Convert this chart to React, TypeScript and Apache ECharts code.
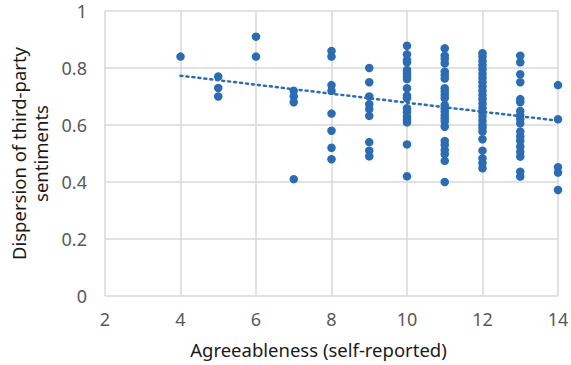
import React, { useEffect, useRef } from "react";
import * as echarts from "echarts";

const xValues4to9: [number, number][] = [
  [4, 0.84],
  [5, 0.77], [5, 0.73], [5, 0.70],
  [6, 0.91], [6, 0.84],
  [7, 0.72], [7, 0.70], [7, 0.68], [7, 0.41],
  [8, 0.86], [8, 0.84], [8, 0.74], [8, 0.72], [8, 0.64], [8, 0.58], [8, 0.52], [8, 0.48],
  [9, 0.80], [9, 0.75], [9, 0.70], [9, 0.673], [9, 0.656], [9, 0.632], [9, 0.54], [9, 0.51], [9, 0.49],
];
const x10Values = [0.878, 0.848, 0.828, 0.82, 0.793, 0.781, 0.77, 0.761, 0.729, 0.703, 0.694, 0.659, 0.645, 0.629, 0.618, 0.609, 0.532, 0.42];
const x11Values = [0.869, 0.843, 0.832, 0.816, 0.787, 0.775, 0.763, 0.729, 0.717, 0.705, 0.694, 0.67, 0.659, 0.647, 0.635, 0.623, 0.612, 0.594, 0.544, 0.53, 0.512, 0.498, 0.474, 0.40];
const x12Values = [0.852, 0.84, 0.825, 0.81, 0.795, 0.78, 0.765, 0.75, 0.735, 0.72, 0.705, 0.69, 0.675, 0.66, 0.645, 0.63, 0.615, 0.60, 0.59, 0.577, 0.55, 0.51, 0.483, 0.466, 0.448];
const x13Values = [0.843, 0.82, 0.778, 0.75, 0.691, 0.68, 0.649, 0.635, 0.621, 0.606, 0.577, 0.559, 0.544, 0.524, 0.506, 0.489, 0.436, 0.419];
const x14Values = [0.74, 0.62, 0.452, 0.433, 0.372];
const trendLine: [number, number][] = [[4, 0.773], [14, 0.615]];

const xTicks = [2, 4, 6, 8, 10, 12, 14];
const yTicks = [0, 0.2, 0.4, 0.6, 0.8, 1];

const COLOR = "#2b6cb7";
const FONT = "Noto Sans";

export default function App() {
  const ref = useRef<HTMLDivElement>(null);
  useEffect(() => {
    if (!ref.current) return;
    const chart = echarts.init(ref.current, null, { renderer: "svg" });
    const points: [number, number][] = [
      ...xValues4to9,
      ...x10Values.map((v) => [10, v] as [number, number]),
      ...x11Values.map((v) => [11, v] as [number, number]),
      ...x12Values.map((v) => [12, v] as [number, number]),
      ...x13Values.map((v) => [13, v] as [number, number]),
      ...x14Values.map((v) => [14, v] as [number, number]),
    ];
    chart.setOption({
      animation: false,
      textStyle: { fontFamily: FONT },
      grid: { left: 105, right: 13, top: 11, bottom: 69, containLabel: false, outerBoundsMode: "none" },
      xAxis: {
        type: "value",
        min: xTicks[0],
        max: xTicks[xTicks.length - 1],
        interval: 2,
        name: "Agreeableness (self-reported)",
        nameLocation: "middle",
        nameGap: 44,
        nameMoveOverlap: false,
        nameTextStyle: { color: "#1a1a1a", fontSize: 18.5, fontFamily: FONT, padding: [0, 26, 0, 0] },
        axisLine: { show: false },
        axisTick: { show: false },
        axisLabel: { color: "#595959", fontSize: 18, margin: 14, fontFamily: FONT },
        splitLine: { show: true, lineStyle: { color: "#d9d9d9", width: 1.5 } },
      },
      yAxis: {
        type: "value",
        min: yTicks[0],
        max: yTicks[yTicks.length - 1],
        interval: 0.2,
        name: "Dispersion of third-party\nsentiments",
        nameLocation: "middle",
        nameGap: 54,
        nameMoveOverlap: false,
        nameTextStyle: { color: "#1a1a1a", fontSize: 18.5, lineHeight: 22, fontFamily: FONT },
        axisLine: { show: false },
        axisTick: { show: false },
        axisLabel: { color: "#595959", fontSize: 18, margin: 18, fontFamily: FONT },
        splitLine: { show: true, lineStyle: { color: "#d9d9d9", width: 1.5 } },
      },
      series: [
        {
          type: "scatter",
          data: points,
          symbolSize: 8.5,
          itemStyle: { color: COLOR, opacity: 1 },
        },
        {
          type: "line",
          data: trendLine,
          symbol: "none",
          lineStyle: { color: COLOR, width: 2.5, type: [2, 4], cap: "round" },
        },
      ],
    });
    return () => chart.dispose();
  }, []);
  return <div ref={ref} style={{ width: 571, height: 365, position: "absolute", left: 0, top: 0 }} />;
}
